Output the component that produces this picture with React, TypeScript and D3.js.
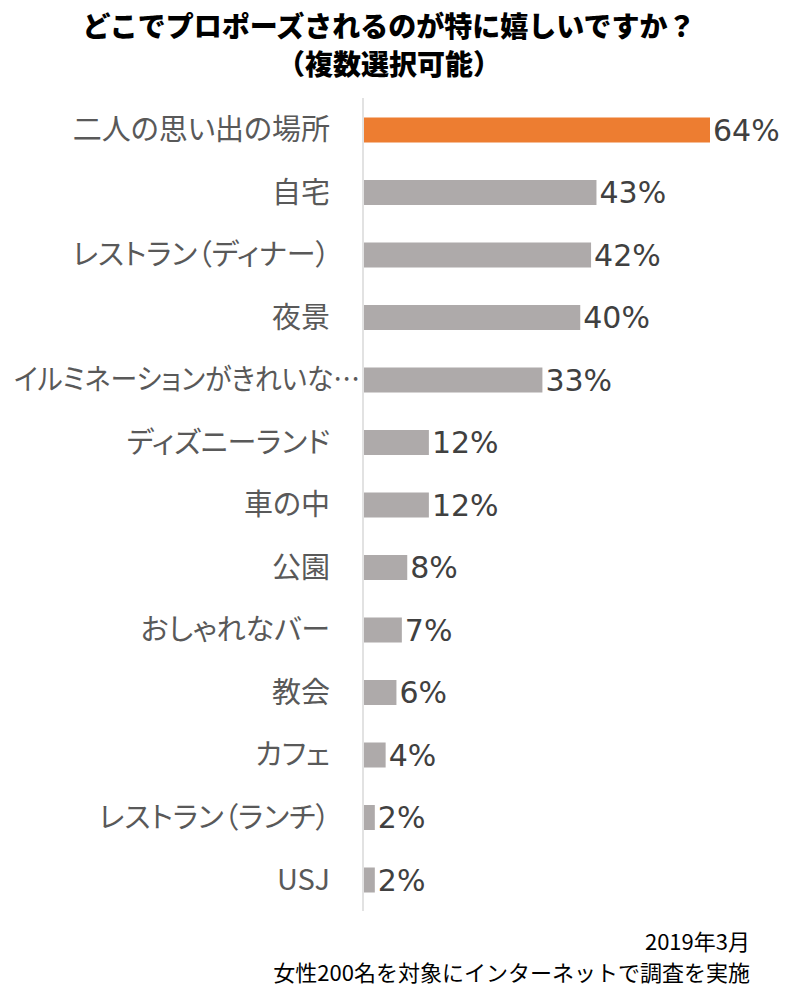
import { useEffect } from "react";
import * as d3 from "d3";

const categories = [
  "二人の思い出の場所",
  "自宅",
  "レストラン（ディナー）",
  "夜景",
  "イルミネーションがきれいな…",
  "ディズニーランド",
  "車の中",
  "公園",
  "おしゃれなバー",
  "教会",
  "カフェ",
  "レストラン（ランチ）",
  "USJ",
];
const values = [64, 43, 42, 40, 33, 12, 12, 8, 7, 6, 4, 2, 2];
const titleLines = ["どこでプロポーズされるのが特に嬉しいですか？", "（複数選択可能）"];
const noteLines = ["2019年3月", "女性200名を対象にインターネットで調査を実施"];

const width = 800;
const height = 998;
const axisX = 363;
const jp = "'Noto Sans CJK JP', 'Noto Sans', sans-serif";

export default function App() {
  useEffect(() => {
    document.body.style.margin = "0";
  }, []);

  const x = d3.scaleLinear().domain([0, 64]).range([0, 346]);
  const y = d3
    .scaleBand()
    .domain(categories)
    .range([98.75, 911.25])
    .paddingInner(0.6)
    .paddingOuter(0.3);

  return (
    <svg width={width} height={height} style={{ display: "block", background: "#fff" }}>
      {titleLines.map((t, i) => (
        <text
          key={t}
          x={389}
          y={37 + i * 38}
          textAnchor="middle"
          fontFamily={jp}
          fontWeight={900}
          fontSize={28}
          fill="#000"
        >
          {t}
        </text>
      ))}

      <line x1={axisX} x2={axisX} y1={98} y2={911} stroke="#d9d9d9" strokeWidth={1.5} />

      {categories.map((c, i) => {
        const cy = (y(c) ?? 0) + y.bandwidth() / 2;
        const truncated = c.endsWith("…");
        return (
          <g key={c}>
            <rect
              x={axisX + 1}
              y={y(c)}
              width={x(values[i])}
              height={y.bandwidth()}
              fill={i === 0 ? "#ED7D31" : "#AEAAAA"}
            />
            <text
              x={truncated ? axisX - 3 : 330}
              y={cy}
              dy="0.35em"
              textAnchor="end"
              fontFamily={jp}
              fontSize={29}
              fill="#595959"
              style={{ fontFeatureSettings: "'palt'" }}
              textLength={truncated ? 346 : undefined}
              lengthAdjust={truncated ? "spacingAndGlyphs" : undefined}
            >
              {c}
            </text>
            <text
              x={axisX + 1 + x(values[i]) + 3}
              y={cy}
              dy="0.36em"
              fontFamily="'DejaVu Sans', Verdana, sans-serif"
              fontSize={30}
              fill="#404040"
            >
              {values[i]}%
            </text>
          </g>
        );
      })}

      {noteLines.map((t, i) => (
        <text
          key={t}
          x={750}
          y={950 + i * 31}
          textAnchor="end"
          fontFamily={jp}
          fontSize={22}
          fill="#000"
        >
          {t}
        </text>
      ))}
    </svg>
  );
}
